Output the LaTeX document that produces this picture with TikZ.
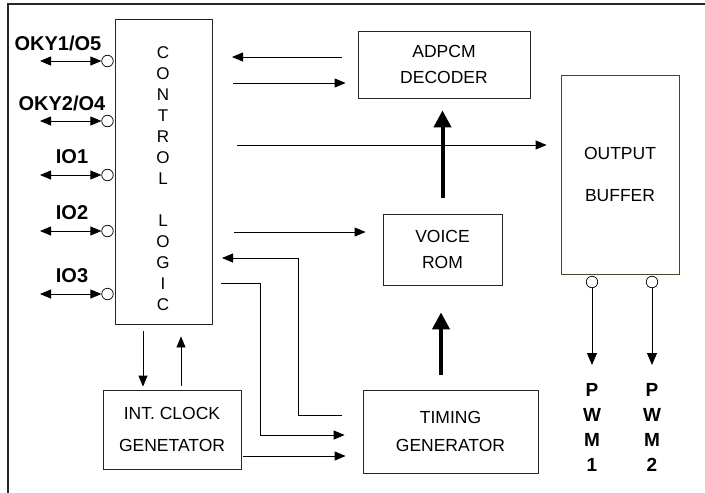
\documentclass[tikz,border=0pt]{standalone}
\usepackage{fontspec}
\setmainfont{Liberation Sans}
\usetikzlibrary{arrows.meta,calc}
\begin{document}
\begin{tikzpicture}[x=1pt,y=-1pt,
	box/.style={draw=black!85,line width=0.8pt,inner sep=0pt,align=center,font=\fontsize{17.5}{20}\selectfont},
	pinc/.style={draw,circle,fill=white,line width=0.7pt,inner sep=0pt,minimum size=11.5pt},
	arr/.style={line width=0.8pt,-{Triangle[length=11pt,width=9pt]}},
	darr/.style={line width=0.8pt,{Triangle[length=11pt,width=9pt]}-{Triangle[length=11pt,width=9pt]}},
	fat/.style={line width=4pt,-{Triangle[length=17pt,width=17pt]}},
	lbl/.style={font=\fontsize{20}{25}\bfseries\selectfont,align=center,inner sep=0pt}]
	\useasboundingbox (0,0) rectangle (705,493);
	\draw[line width=1.6pt,black!85] (8,493) -- (8,4) -- (705,4);
	\node[box,minimum width=97pt,minimum height=305pt] (ctl) at (163.5,171.5) {};
	\node[align=center,inner sep=0pt,font=\fontsize{17}{21}\selectfont] (ctltext) at (163,179) {C\\O\\N\\T\\R\\O\\L\\[21pt]L\\O\\G\\I\\C};
	\node[box,minimum width=172pt,minimum height=67pt] (dec) at (444,64.5) {ADPCM\\[6pt]DECODER};
	\node[box,minimum width=119pt,minimum height=71pt] (rom) at (442.5,249.5) {VOICE\\[6pt]ROM};
	\node[box,draw={rgb,255:red,70;green,70;blue,40},minimum width=118pt,minimum height=199pt] (buf) at (620,174.5) {OUTPUT\\[22pt]BUFFER};
	\node[box,minimum width=138pt,minimum height=79pt] (clk) at (172,429.5) {INT. CLOCK\\[12pt]GENETATOR};
	\node[box,minimum width=175pt,minimum height=83pt] (tim) at (450.5,431.5) {TIMING\\[8pt]GENERATOR};
	\foreach \n/\y/\t/\x in {1/61/OKY1\slash O5/58,2/121/OKY2\slash O4/62,3/175/IO1/72,4/231/IO2/72,5/294/IO3/72}{
		\node[pinc] (p\n) at (107.5,\y) {};
		\coordinate (e\n) at (40,\y);
		\draw[darr] (e\n) -- (p\n.west);
		\node[lbl] (l\n) at (\x,\y-18) {\t};
	}
	\coordinate (d1) at (232,57);
	\coordinate (d2) at (233,83);
	\coordinate (b1) at (237,145);
	\coordinate (r1) at (234,232);
	\draw[arr,shorten <=16pt] (dec.west |- d1) -- (d1);
	\draw[arr,shorten >=12pt] (d2) -- (dec.west |- d2);
	\draw[arr,shorten >=14pt] (b1) -- (buf.west |- b1);
	\draw[arr,shorten >=17pt] (r1) -- (rom.west |- r1);
	\draw[fat,shorten <=16pt,shorten >=12pt] (rom.north) -- (rom.north |- dec.south);
	\coordinate (t1) at (441,0);
	\draw[fat,shorten <=15pt,shorten >=27pt] (tim.north -| t1) -- (rom.south -| t1);
	\coordinate (f0) at (342,415);
	\coordinate (f2) at (298,258);
	\coordinate (f1) at (222,258);
	\draw[arr] (f0) -| (f2) -- (f1);
	\coordinate (g0) at (221,283);
	\coordinate (g1) at (260,435);
	\draw[arr,shorten >=18pt] (g0) -| (g1) -- (tim.west |- g1);
	\coordinate (k1) at (143,0);
	\coordinate (k2) at (181,0);
	\draw[arr,shorten <=7pt,shorten >=3pt] (ctl.south -| k1) -- (clk.north -| k1);
	\draw[arr,shorten <=4pt,shorten >=12pt] (clk.north -| k2) -- (ctl.south -| k2);
	\coordinate (c1) at (243,456);
	\draw[arr,shorten >=17pt] (c1) -- (tim.west |- c1);
	\foreach \n/\x in {1/592,2/652}{
		\node[pinc] (q\n) at (\x,282) {};
		\coordinate (w\n) at (\x,365);
		\draw[line width=0.8pt,-{Triangle[length=12pt,width=10pt]}] (q\n.south) -- (w\n);
		\node[lbl,font=\fontsize{19}{25}\bfseries\selectfont] (m\n) at (\x,427) {P\\W\\M\\\n};
	}
\end{tikzpicture}
\end{document}
